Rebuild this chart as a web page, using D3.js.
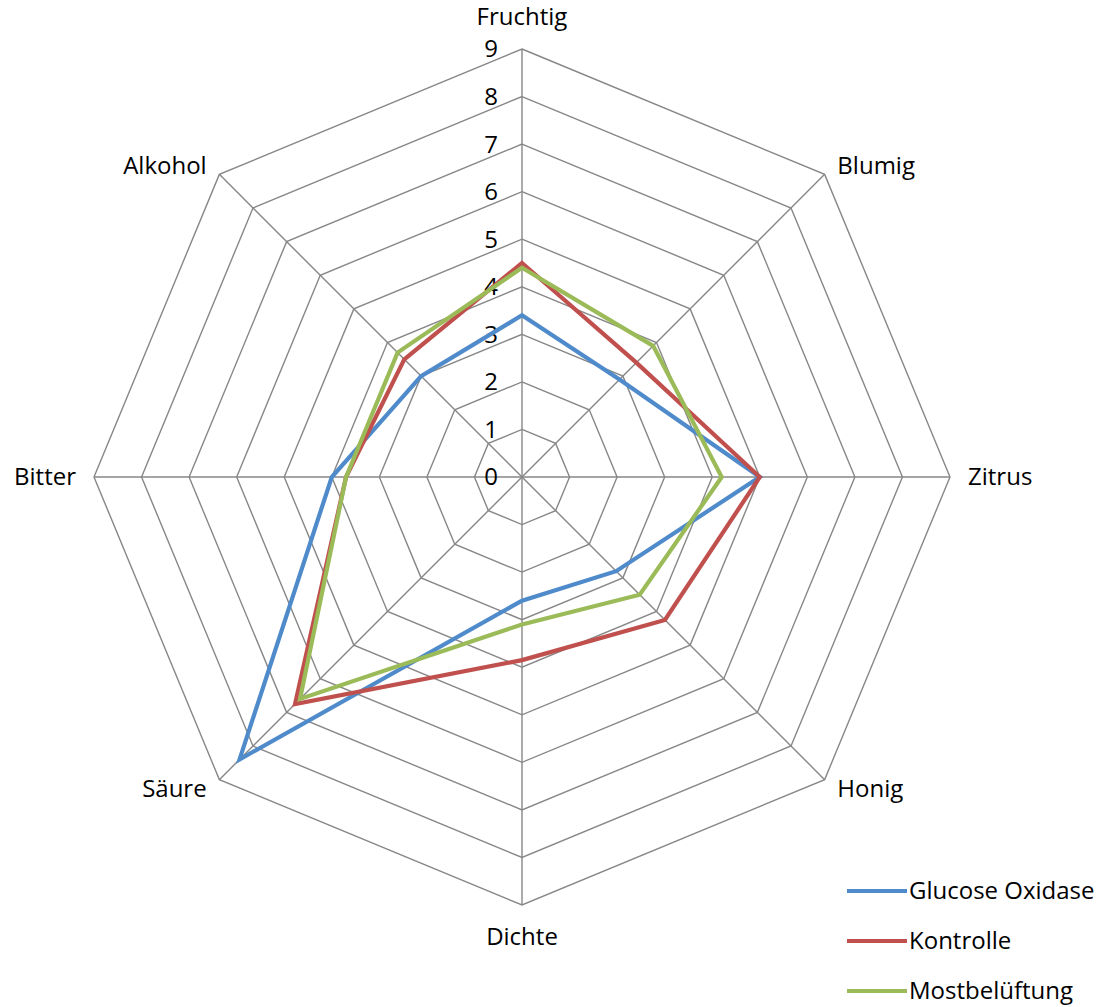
<!DOCTYPE html>
<html>
<head>
<meta charset="utf-8">
<script src="https://cdnjs.cloudflare.com/ajax/libs/d3/7.8.5/d3.min.js"></script>
<style>
  html, body { margin: 0; padding: 0; background: #fff; }
  svg text { font-family: "Open Sans", "Liberation Sans", sans-serif; fill: #000; }
</style>
</head>
<body>
<svg id="chart" width="1103" height="1007"></svg>
<script>
// Sensory attributes, clockwise from the top
const categories = ["Fruchtig", "Blumig", "Zitrus", "Honig", "Dichte", "Säure", "Bitter", "Alkohol"];
const tickValues = [0, 1, 2, 3, 4, 5, 6, 7, 8, 9];

const seriesNames = ["Glucose Oxidase", "Kontrolle", "Mostbelüftung"];
const glucoseOxidase = [3.4, 2.9, 5.0, 2.8, 2.6, 8.4, 4.0, 3.0];
const kontrolle      = [4.5, 3.4, 5.0, 4.25, 3.85, 6.75, 3.7, 3.5];
const mostbelueftung = [4.4, 3.9, 4.2, 3.5, 3.1, 6.6, 3.7, 3.7];
const seriesColors = ["#4f8bcb", "#c0504d", "#9bbb59"];

const series = [glucoseOxidase, kontrolle, mostbelueftung];

const svg = d3.select("#chart");
const cx = 522, cy = 477;
const fontSize = 24;
const r = d3.scaleLinear().domain([0, 9]).range([0, 428]);
const angle = d3.scaleLinear().domain([0, categories.length]).range([0, 2 * Math.PI]);

const g = svg.append("g").attr("transform", `translate(${cx},${cy})`);

// polar -> cartesian with 0 rad at top, clockwise
const pt = (i, v) => [r(v) * Math.sin(angle(i)), -r(v) * Math.cos(angle(i))];

// Octagonal grid rings
const ring = d3.line().curve(d3.curveLinearClosed);
g.append("g").selectAll("path")
  .data(tickValues.filter(t => t > 0))
  .join("path")
  .attr("d", t => ring(categories.map((_, i) => pt(i, t))))
  .attr("fill", "none")
  .attr("stroke", "#878787")
  .attr("stroke-width", 1.4);

// Spokes
g.append("g").selectAll("line")
  .data(categories)
  .join("line")
  .attr("x1", 0).attr("y1", 0)
  .attr("x2", (_, i) => pt(i, 9)[0])
  .attr("y2", (_, i) => pt(i, 9)[1])
  .attr("stroke", "#878787")
  .attr("stroke-width", 1.4);

// Value labels along the top spoke
g.append("g").selectAll("text")
  .data(tickValues)
  .join("text")
  .attr("x", -24)
  .attr("y", t => -r(t))
  .attr("dy", "0.35em")
  .attr("text-anchor", "end")
  .attr("font-size", fontSize)
  .text(t => t);

// Category labels outside the outer ring
g.append("g").selectAll("text")
  .data(categories)
  .join("text")
  .each(function (d, i) {
    const ux = Math.sin(angle(i)), uy = -Math.cos(angle(i));
    const [vx, vy] = pt(i, 9);
    const side = Math.abs(ux) < 0.1;
    d3.select(this)
      .attr("x", vx + ux * 18)
      .attr("y", vy + uy * (side ? 32 : 13))
      .attr("dy", "0.35em")
      .attr("text-anchor", side ? "middle" : (ux > 0 ? "start" : "end"));
  })
  .attr("font-size", fontSize)
  .text(d => d);

// Data polygons
g.append("g").selectAll("path")
  .data(series)
  .join("path")
  .attr("d", vals => ring(vals.map((v, i) => pt(i, v))))
  .attr("fill", "none")
  .attr("stroke", (_, k) => seriesColors[k])
  .attr("stroke-width", 4.2)
  .attr("stroke-linejoin", "miter");

// Legend
const legend = svg.append("g").attr("transform", "translate(847,891)");
const item = legend.selectAll("g")
  .data(seriesNames)
  .join("g")
  .attr("transform", (_, k) => `translate(0,${k * 50})`);
item.append("line")
  .attr("x1", 0).attr("x2", 60)
  .attr("stroke", (_, k) => seriesColors[k])
  .attr("stroke-width", 4.2);
item.append("text")
  .attr("x", 62)
  .attr("dy", "0.35em")
  .attr("font-size", fontSize)
  .text(d => d);
</script>
</body>
</html>
